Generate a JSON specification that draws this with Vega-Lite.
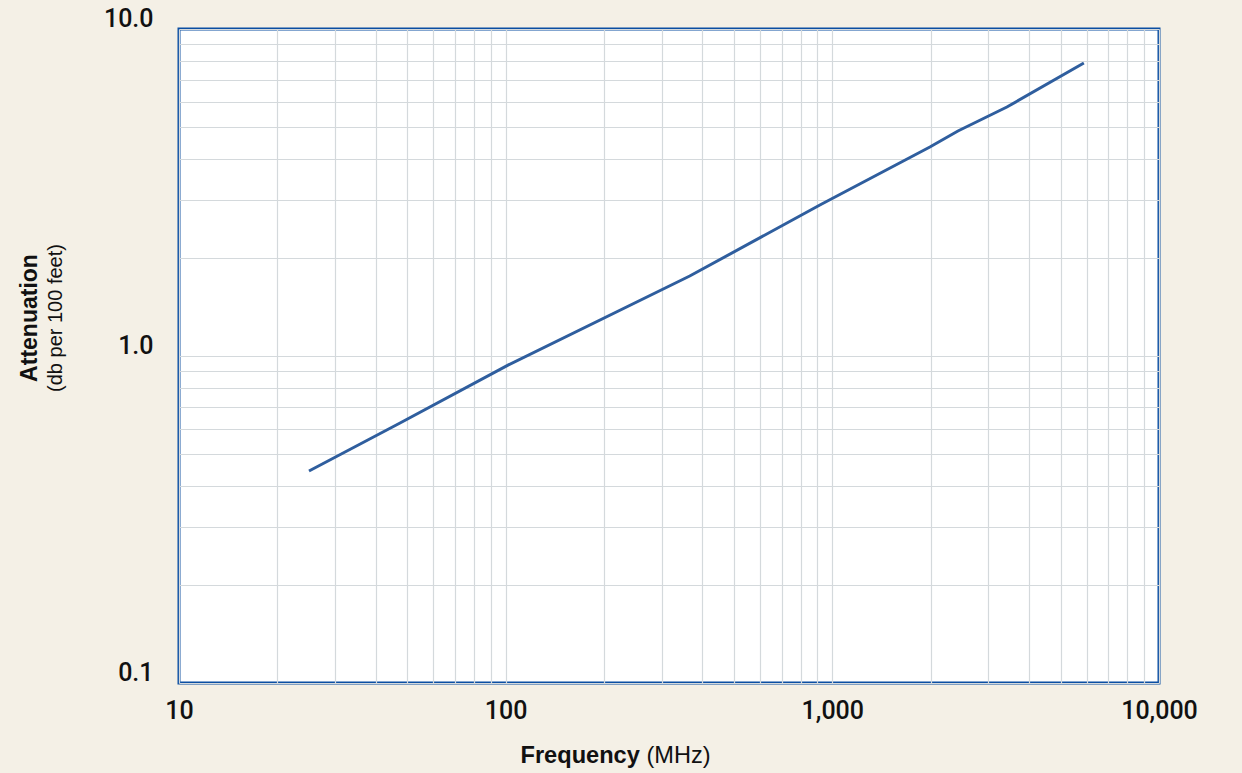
{
  "$schema": "https://vega.github.io/schema/vega-lite/v6.json",
  "width": 980,
  "height": 654,
  "autosize": {"type": "none"},
  "padding": {"left": 179, "top": 29, "right": 83, "bottom": 90},
  "background": "#f4f0e6",
  "config": {
    "view": {"fill": "#ffffff", "stroke": "#0b4ea2", "strokeWidth": 3},
    "font": "Liberation Sans"
  },
  "title": {
    "text": "Attenuation",
    "subtitle": "(db per 100 feet)",
    "orient": "left",
    "anchor": "middle",
    "fontSize": 23,
    "fontWeight": "bold",
    "color": "#111111",
    "subtitleFontSize": 20,
    "subtitleFontWeight": "normal",
    "subtitleColor": "#111111",
    "subtitlePadding": 4,
    "offset": 37,
    "dx": 38
  },
  "data": {
    "values": [
      {"frequency": 25, "attenuation": 0.445},
      {"frequency": 47.5, "attenuation": 0.624},
      {"frequency": 102, "attenuation": 0.939},
      {"frequency": 366, "attenuation": 1.756},
      {"frequency": 916, "attenuation": 2.896},
      {"frequency": 1989, "attenuation": 4.356},
      {"frequency": 2424, "attenuation": 4.877},
      {"frequency": 3423, "attenuation": 5.774},
      {"frequency": 5888, "attenuation": 7.87}
    ]
  },
  "layer": [
    {
      "mark": {"type": "line", "color": "#2f5e9e", "strokeWidth": 3},
      "encoding": {
        "x": {
          "field": "frequency",
          "type": "quantitative",
          "scale": {"type": "log", "domain": [10, 10000]},
          "axis": {
            "orient": "bottom",
            "values": [10, 20, 30, 40, 50, 60, 70, 80, 90, 100, 200, 300, 400, 500, 600, 700, 800, 900, 1000, 2000, 3000, 4000, 5000, 6000, 7000, 8000, 9000, 10000],
            "labelExpr": "indexof([10,100,1000,10000], datum.value) >= 0 ? format(datum.value, ',') : ''",
            "domain": false,
            "ticks": false,
            "grid": true,
            "gridColor": "#d4d9dc",
            "gridWidth": 1.2,
            "labelFont": "Roboto",
            "labelFontWeight": 500,
            "labelFontSize": 25,
            "labelColor": "#111111",
            "labelPadding": 15,
            "labelFlush": false,
            "labelOverlap": false,
            "title": "Frequency",
            "titleFontSize": 23.6,
            "titleFontWeight": "bold",
            "titleColor": "#111111",
            "titleAnchor": null,
            "titleAlign": "left",
            "titleBaseline": "alphabetic",
            "titleX": 341,
            "titleY": 79
          }
        },
        "y": {
          "field": "attenuation",
          "type": "quantitative",
          "scale": {"type": "log", "domain": [0.1, 10]},
          "axis": {
            "values": [0.1, 0.2, 0.3, 0.4, 0.5, 0.6, 0.7, 0.8, 0.9, 1, 2, 3, 4, 5, 6, 7, 8, 9, 10],
            "labelExpr": "indexof([0.1,1,10], datum.value) >= 0 ? format(datum.value, '.1f') : ''",
            "domain": false,
            "ticks": false,
            "grid": true,
            "gridColor": "#d4d9dc",
            "gridWidth": 1.2,
            "labelFont": "Roboto",
            "labelFontWeight": 500,
            "labelFontSize": 25,
            "labelColor": "#111111",
            "labelPadding": 26,
            "labelOffset": -11,
            "labelOverlap": false,
            "labelFlush": false,
            "title": null
          }
        }
      }
    },
    {
      "mark": {"type": "line", "opacity": 0},
      "encoding": {
        "x": {
          "field": "frequency",
          "type": "quantitative",
          "scale": {"type": "log", "domain": [10, 10000]},
          "axis": {
            "orient": "bottom",
            "domain": false,
            "ticks": false,
            "labels": false,
            "grid": false,
            "title": "(MHz)",
            "titleFontSize": 23.6,
            "titleFontWeight": "normal",
            "titleColor": "#111111",
            "titleAnchor": null,
            "titleAlign": "left",
            "titleBaseline": "alphabetic",
            "titleX": 467,
            "titleY": 79
          }
        }
      }
    }
  ],
  "resolve": {"axis": {"x": "independent"}}
}
